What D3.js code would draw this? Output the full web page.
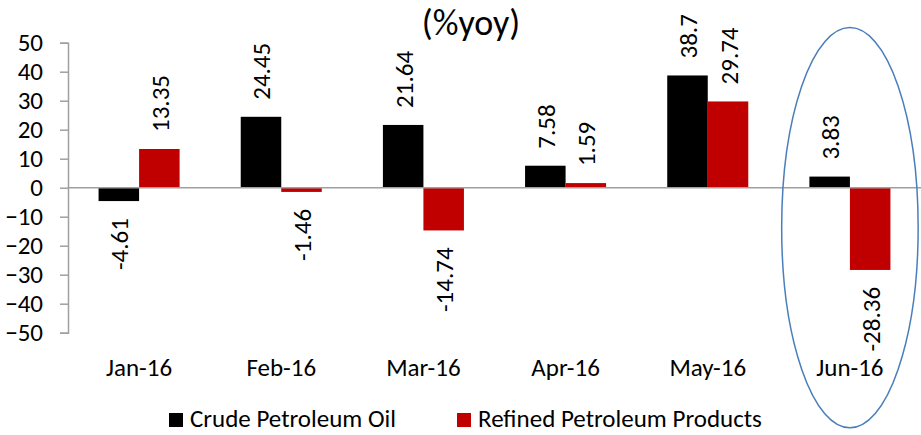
<!DOCTYPE html>
<html>
<head>
<meta charset="utf-8">
<script src="https://cdn.jsdelivr.net/npm/d3@7"></script>
<style>
  body { margin: 0; background: #fff; }
  svg text { font-family: Carlito, Lato, sans-serif; fill: #000; }
</style>
</head>
<body>
<div id="chart"></div>
<script>
const months = ['Jan-16', 'Feb-16', 'Mar-16', 'Apr-16', 'May-16', 'Jun-16'];
const seriesNames = ['Crude Petroleum Oil', 'Refined Petroleum Products'];
const crude = [-4.61, 24.45, 21.64, 7.58, 38.7, 3.83];
const refined = [13.35, -1.46, -14.74, 1.59, 29.74, -28.36];
const yTicks = [-50, -40, -30, -20, -10, 0, 10, 20, 30, 40, 50];
const colors = ['#000000', '#C00000'];

const width = 921;
const height = 435;
const plotLeft = 68, plotRight = 921, plotTop = 42.7, plotBottom = 332.7;
const fs = '25px';

const svg = d3.select('#chart')
    .append('svg')
    .attr('width', width)
    .attr('height', height);

const x = d3.scaleBand().domain(months).range([plotLeft, plotRight]);
const bw = x.bandwidth();
const x1 = d3.scaleBand().domain(seriesNames).range([bw * 0.215, bw * 0.785]);
const y = d3.scaleLinear().domain([-50, 50]).range([plotBottom, plotTop]);

// title
svg.append('text')
    .attr('x', 471)
    .attr('y', 35)
    .attr('text-anchor', 'middle')
    .style('font-size', '36px')
    .text('(%yoy)');

// y axis
const yAxis = svg.append('g')
    .attr('transform', `translate(${plotLeft},0)`)
    .call(d3.axisLeft(y).tickValues(yTicks).tickSize(8).tickPadding(17).tickFormat(d3.format('d')));
yAxis.attr('font-family', null);
yAxis.select('.domain').attr('stroke', '#A0A0A0').attr('stroke-width', 1.5);
yAxis.selectAll('.tick line').attr('stroke', '#A0A0A0').attr('stroke-width', 1.5);
yAxis.selectAll('.tick text')
    .style('font-size', fs)
    .attr('fill', '#000');

const rows = months.map((m, i) => ({ month: m, values: [crude[i], refined[i]] }));

const groups = svg.selectAll('.grp')
    .data(rows)
    .enter()
    .append('g')
    .attr('class', 'grp')
    .attr('transform', d => `translate(${x(d.month)},0)`);

groups.selectAll('rect')
    .data(d => d.values.map((v, j) => ({ v, name: seriesNames[j], j })))
    .enter()
    .append('rect')
    .attr('x', d => x1(d.name))
    .attr('width', x1.bandwidth())
    .attr('y', d => y(Math.max(0, d.v)))
    .attr('height', d => Math.abs(y(d.v) - y(0)))
    .attr('fill', d => colors[d.j]);

// zero line
svg.append('line')
    .attr('x1', plotLeft)
    .attr('x2', plotRight)
    .attr('y1', y(0))
    .attr('y2', y(0))
    .attr('stroke', '#A0A0A0')
    .attr('stroke-width', 1.5);

// data labels, rotated
groups.selectAll('.lbl')
    .data(d => d.values.map((v, j) => ({ v, name: seriesNames[j], j })))
    .enter()
    .append('text')
    .attr('class', 'lbl')
    .style('font-size', fs)
    .attr('dominant-baseline', 'central')
    .attr('text-anchor', d => d.v >= 0 ? 'start' : 'end')
    .attr('transform', d => {
        const cx = x1(d.name) + x1.bandwidth() / 2 + 1;
        const cy = d.v >= 0 ? y(d.v) - 17 : y(d.v) + 17;
        return `translate(${cx},${cy}) rotate(-90)`;
    })
    .text(d => d.v);

// category labels
svg.selectAll('.cat')
    .data(months)
    .enter()
    .append('text')
    .attr('class', 'cat')
    .attr('x', d => x(d) + bw / 2)
    .attr('y', 376)
    .attr('text-anchor', 'middle')
    .style('font-size', fs)
    .text(d => d);

// highlight ellipse around Jun-16
const jun = months[months.length - 1];
svg.append('ellipse')
    .attr('cx', x(jun) + bw / 2)
    .attr('cy', (y(55.2) + y(-82.8)) / 2)
    .attr('rx', bw * 0.48)
    .attr('ry', (y(-82.8) - y(55.2)) / 2)
    .attr('fill', 'none')
    .attr('stroke', '#4A7EBB')
    .attr('stroke-width', 1.5);

// legend
const legendX = [169, 457];
const legend = svg.selectAll('.leg')
    .data(seriesNames)
    .enter()
    .append('g')
    .attr('class', 'leg')
    .attr('transform', (d, i) => `translate(${legendX[i]},0)`);
legend.append('rect')
    .attr('x', 0)
    .attr('y', 413)
    .attr('width', 14)
    .attr('height', 14)
    .attr('fill', (d, i) => colors[i]);
legend.append('text')
    .attr('x', 21)
    .attr('y', 427)
    .style('font-size', fs)
    .text(d => d);
</script>
</body>
</html>
